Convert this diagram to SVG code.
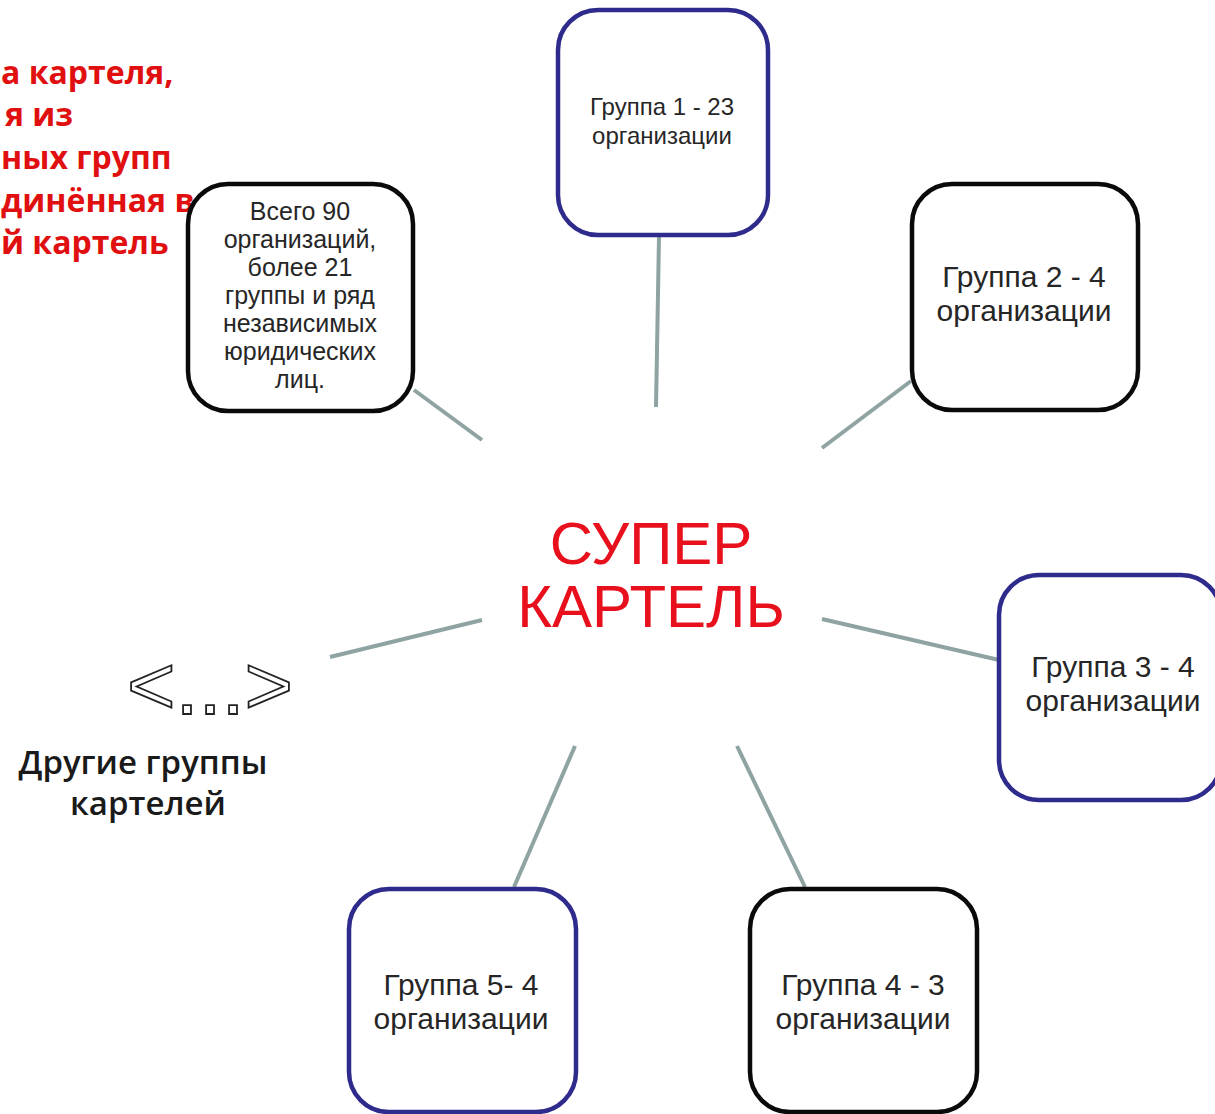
<svg xmlns="http://www.w3.org/2000/svg" width="1215" height="1114" viewBox="0 0 1215 1114">
<style>
.box{fill:#fff;stroke-width:4.5}
.navy{stroke:#2f2b8c}
.blk{stroke:#0a0a0a}
.conn{stroke:#8fa3a3;stroke-width:4;stroke-linecap:butt;fill:none}
.nt{font-family:"Liberation Sans",Arial,sans-serif;fill:#262626;text-anchor:middle}
.red{font-family:"Open Sans","Noto Sans",sans-serif;font-weight:700;font-size:32px;fill:#e01010}
.side{font-family:"Open Sans","Noto Sans",sans-serif;font-weight:600;font-size:33px;fill:#1a1a1a;text-anchor:middle}
.center{font-family:"Liberation Sans",Arial,sans-serif;font-size:60px;fill:#e8101c;text-anchor:middle}
</style>
<rect width="1215" height="1114" fill="#fff"/>
<g id="title-fragment">
<text class="red" x="1" y="84">а картеля,</text>
<text class="red" x="5" y="126">я из</text>
<text class="red" x="1" y="169">ных групп</text>
<text class="red" x="1" y="212">динённая в</text>
<text class="red" x="1" y="254">й картель</text>
</g>
<g id="connectors">
<line class="conn" x1="659" y1="237" x2="656" y2="407"/>
<line class="conn" x1="911" y1="381" x2="822" y2="448"/>
<line class="conn" x1="414" y1="390" x2="482" y2="440"/>
<line class="conn" x1="330" y1="657" x2="482" y2="620"/>
<line class="conn" x1="822" y1="619" x2="999" y2="660"/>
<line class="conn" x1="575" y1="746" x2="514" y2="887"/>
<line class="conn" x1="737" y1="746" x2="805" y2="887"/>
</g>
<g id="center">
<text class="center" x="651" y="564">СУПЕР</text>
<text class="center" x="651" y="627">КАРТЕЛЬ</text>
</g>
<g id="node-total">
<rect class="box blk" x="188" y="184" width="225" height="227" rx="40"/>
<g class="nt" font-size="25">
<text x="300" y="220">Всего 90</text>
<text x="300" y="248">организаций,</text>
<text x="300" y="276">более 21</text>
<text x="300" y="304">группы и ряд</text>
<text x="300" y="332">независимых</text>
<text x="300" y="360">юридических</text>
<text x="300" y="388">лиц.</text>
</g>
</g>
<g id="node-group1">
<rect class="box navy" x="558" y="10" width="210" height="225" rx="40"/>
<text class="nt" font-size="24" x="662" y="115">Группа 1 - 23</text>
<text class="nt" font-size="24" x="662" y="144">организации</text>
</g>
<g id="node-group2">
<rect class="box blk" x="912" y="184" width="226" height="226" rx="40"/>
<text class="nt" font-size="30" x="1024" y="287">Группа 2 - 4</text>
<text class="nt" font-size="30" x="1024" y="321">организации</text>
</g>
<g id="node-group3">
<rect class="box navy" x="999" y="575" width="222" height="225" rx="40"/>
<text class="nt" font-size="30" x="1113" y="677">Группа 3 - 4</text>
<text class="nt" font-size="30" x="1113" y="711">организации</text>
</g>
<g id="node-group4">
<rect class="box blk" x="750" y="889" width="227" height="223" rx="40"/>
<text class="nt" font-size="30" x="863" y="995">Группа 4 - 3</text>
<text class="nt" font-size="30" x="863" y="1029">организации</text>
</g>
<g id="node-group5">
<rect class="box navy" x="349" y="889" width="227" height="223" rx="40"/>
<text class="nt" font-size="30" x="461" y="995">Группа 5- 4</text>
<text class="nt" font-size="30" x="461" y="1029">организации</text>
</g>
<g id="other-groups">
<text x="210" y="714" font-family="Liberation Sans,Arial,sans-serif" font-size="83" fill="#fff" stroke="#222" stroke-width="1.8" text-anchor="middle">&lt;...&gt;</text>
<text class="side" x="143" y="774">Другие группы</text>
<text class="side" x="148" y="815">картелей</text>
</g>
</svg>
